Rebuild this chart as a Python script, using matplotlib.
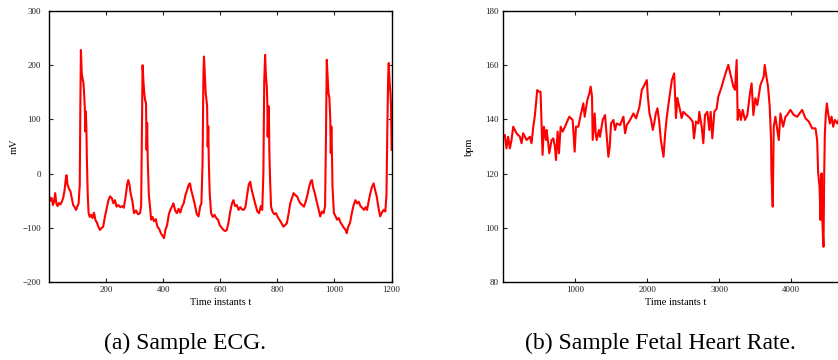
import matplotlib
matplotlib.use("Agg")
import matplotlib.pyplot as plt

plt.rcParams["font.family"] = ["Liberation Serif", "DejaVu Serif"]

# ECG sample (time instant, mV)
ecg_t = [1, 5, 10, 14, 18, 22, 26, 30, 35, 40, 45, 50, 55, 60, 62, 65, 70, 75, 80, 85,
         90, 95, 100, 104, 108, 110, 112, 115, 118, 121, 124, 126, 127, 129, 131, 133, 136, 139, 143, 148,
         153, 158, 163, 168, 173, 179, 185, 190, 196, 202, 208, 214, 220, 226, 231, 237, 243, 250, 256, 262,
         268, 274, 278, 282, 286, 292, 298, 305, 312, 319, 323, 326, 328, 331, 334, 337, 340, 342, 344, 346,
         350, 354, 358, 363, 368, 374, 380, 386, 392, 398, 403, 408, 414, 420, 426, 432, 436, 442, 448, 454,
         460, 466, 472, 478, 484, 490, 494, 498, 504, 510, 518, 524, 530, 534, 538, 541, 543, 546, 549, 552,
         554, 556, 558, 560, 563, 568, 574, 580, 586, 592, 598, 605, 611, 617, 623, 629, 635, 641, 646, 652,
         658, 664, 670, 676, 682, 688, 694, 700, 705, 710, 716, 722, 730, 736, 742, 747, 751, 754, 757, 760,
         763, 765, 766, 768, 770, 772, 775, 778, 783, 789, 795, 801, 807, 813, 821, 827, 833, 839, 845, 851,
         857, 863, 869, 875, 881, 887, 893, 899, 905, 911, 917, 921, 925, 931, 937, 944, 950, 956, 962, 967,
         970, 973, 976, 979, 982, 985, 987, 989, 991, 993, 998, 1003, 1009, 1015, 1021, 1027, 1033, 1039, 1043, 1048,
         1054, 1060, 1066, 1073, 1079, 1085, 1091, 1097, 1103, 1109, 1114, 1120, 1126, 1131, 1137, 1142, 1148, 1153, 1160, 1166,
         1172, 1178, 1182, 1185, 1188, 1190, 1193, 1196, 1198, 1200]
ecg_mv = [-42, -50, -45, -58, -52, -36, -55, -60, -54, -57, -52, -45, -30, -5, -3, -20, -28, -32, -45, -58,
          -62, -67, -60, -55, -20, 120, 228, 185, 175, 167, 140, 117, 78, 115, 90, 25, -40, -73, -80, -76,
          -82, -72, -86, -90, -98, -104, -100, -98, -80, -65, -50, -42, -45, -55, -49, -61, -58, -62, -60, -63,
          -45, -20, -12, -20, -36, -50, -73, -68, -75, -73, -60, 100, 200, 170, 148, 135, 130, 44, 93, 25,
          -40, -61, -85, -80, -88, -84, -98, -102, -110, -115, -119, -104, -95, -75, -66, -60, -55, -68, -73, -65,
          -72, -61, -55, -40, -30, -20, -18, -30, -42, -55, -75, -79, -60, -55, 20, 180, 216, 180, 148, 135,
          124, 50, 87, 20, -36, -73, -80, -76, -82, -85, -95, -100, -104, -106, -104, -90, -70, -55, -49, -60,
          -58, -67, -62, -66, -67, -62, -40, -20, -15, -30, -42, -55, -70, -73, -60, -67, 0, 170, 219, 180,
          160, 125, 68, 110, 124, 38, -20, -61, -70, -75, -73, -80, -85, -90, -98, -95, -92, -75, -55, -45,
          -36, -40, -42, -50, -55, -58, -61, -52, -40, -25, -14, -12, -25, -36, -50, -65, -79, -70, -73, -60,
          60, 210, 180, 148, 140, 105, 38, 87, 40, -24, -73, -78, -85, -82, -90, -95, -100, -104, -110, -98,
          -92, -75, -60, -49, -55, -52, -60, -63, -67, -62, -67, -50, -35, -25, -18, -30, -42, -60, -79, -72,
          -67, -70, -40, 80, 180, 204, 170, 148, 125, 44]

# fetal heart rate sample (time instant, bpm)
fhr_t = [21, 44, 67, 91, 114, 137, 183, 230, 253, 276, 323, 369, 392, 415, 439, 471, 495, 517, 545, 564,
         592, 601, 624, 638, 671, 694, 717, 731, 754, 773, 796, 824, 856, 916, 963, 991, 1009, 1042, 1074, 1111,
         1130, 1167, 1195, 1213, 1232, 1241, 1269, 1283, 1297, 1329, 1343, 1380, 1413, 1459, 1478, 1496, 1529, 1552, 1575, 1622,
         1668, 1691, 1715, 1761, 1807, 1844, 1891, 1923, 1970, 1993, 2007, 2030, 2053, 2076, 2095, 2118, 2141, 2165, 2188, 2225,
         2248, 2271, 2308, 2341, 2373,
         2398, 2417, 2454, 2477, 2500, 2547, 2593, 2630, 2648, 2676, 2709, 2722, 2755, 2778, 2801, 2834, 2861, 2880, 2903, 2931,
         2963, 2986, 3033, 3079, 3125, 3162, 3195, 3218, 3241, 3255, 3278, 3301, 3324, 3357, 3389, 3426, 3449, 3473, 3500, 3528,
         3571, 3617, 3631, 3654, 3677, 3700, 3719, 3724, 3742, 3756, 3779, 3812, 3826, 3849, 3886, 3919, 3942, 3988, 4035, 4081,
         4151, 4197, 4243, 4290, 4336, 4359, 4373, 4392, 4406, 4420, 4434, 4447, 4457, 4466, 4480, 4494, 4512, 4536, 4559, 4582,
         4605, 4638, 4656]
fhr_bpm = [134.2, 129.3, 133.6, 129.3, 132.4, 137.3, 134.9, 133.6, 131.2, 134.9, 132.4, 133.6, 131.2, 137.0, 141.6, 150.8, 150.2, 150.2, 126.9, 137.3,
           132.4, 136.1, 131.2, 127.5, 132.4, 133.0, 129.9, 125.0, 135.5, 127.5, 137.3, 135.5, 137.3, 141.0, 139.8, 128.1, 137.3, 137.3, 141.6, 145.9,
           141.0, 147.2, 149.6, 152.1, 148.4, 132.4, 142.2, 134.9, 132.4, 136.1, 133.6, 139.8, 141.6, 126.2, 129.9, 138.5, 139.8, 136.1, 138.5, 137.9,
           141.0, 134.9, 137.9, 139.8, 142.2, 140.4, 144.7, 150.8, 153.3, 154.5, 148.4, 142.2, 139.8, 136.1, 138.5, 142.2, 144.1, 139.2, 132.4, 126.2,
           134.9, 141.0, 148.4, 154.5, 157.0,
           140.5, 147.9, 143.5, 140.5, 142.8, 141.6, 140.5, 139.2, 133.0, 139.2, 138.5, 142.8, 137.3, 131.2, 141.6, 142.8, 136.1, 142.8, 133.0, 142.8,
           144.0, 148.4, 152.1, 156.4, 160.1, 155.8, 152.1, 150.9, 161.9, 139.8, 143.5, 139.8, 143.5, 139.8, 141.6, 149.6, 153.3, 141.6, 147.8, 145.3,
           152.7, 155.8, 160.1, 155.8, 152.1, 144.7, 132.4, 120.1, 107.8, 137.3, 141.0, 134.9, 132.4, 142.2, 137.3, 141.0, 141.6, 143.5, 141.6, 141.0,
           143.5, 140.4, 139.2, 136.7, 136.7, 132.4, 120.1, 115.2, 102.9, 120.1, 100.4, 93.0, 120.1, 134.9, 142.2, 145.9, 142.2, 138.5, 141.0, 137.3,
           139.8, 138.5, 139.8]

ecg_ticks_x = [200, 400, 600, 800, 1000, 1200]
ecg_ticks_y = [-200, -100, 0, 100, 200, 300]
fhr_ticks_x = [1000, 2000, 3000, 4000]
fhr_ticks_y = [80, 100, 120, 140, 160, 180]


def style(ax, ypad):
    for s in ax.spines.values():
        s.set_linewidth(1.0)
    ax.tick_params(direction="in", top=True, right=True, length=3, width=0.8,
                   labelsize=6.5, colors="#222222")
    ax.tick_params(axis="y", pad=ypad)
    ax.tick_params(axis="x", pad=3)


fig = plt.figure(figsize=(8.38, 3.6), dpi=100)

ax1 = fig.add_axes([49.2 / 838, 78 / 360, 342.4 / 838, 271 / 360])
ax1.plot(ecg_t, ecg_mv, color="red", lw=1.5)
ax1.set_xlim(1, 1200)
ax1.set_ylim(-200, 300)
ax1.set_xticks(ecg_ticks_x)
ax1.set_yticks(ecg_ticks_y)
style(ax1, 6)
ax1.set_xlabel("Time instants t", fontsize=7.5)
ax1.set_ylabel("mV", fontsize=7.5)
ax1.xaxis.set_label_coords(0.5, -0.058)
ax1.yaxis.set_label_coords(-0.088, 0.5)

ax2 = fig.add_axes([503.4 / 838, 78 / 360, 345.5 / 838, 271 / 360])
ax2.plot(fhr_t, fhr_bpm, color="red", lw=1.5)
ax2.set_xlim(1, 4800)
ax2.set_ylim(80, 180)
ax2.set_xticks(fhr_ticks_x)
ax2.set_yticks(fhr_ticks_y)
style(ax2, 3.5)
ax2.set_xlabel("Time instants t", fontsize=7.5)
ax2.set_ylabel("bpm", fontsize=7.5)
ax2.xaxis.set_label_coords(0.5, -0.058)
ax2.yaxis.set_label_coords(-0.085, 0.5)

fig.text(185 / 838, 1 - 343 / 360, "(a) Sample ECG.", fontsize=17, ha="center", va="center")
fig.text(660 / 838, 1 - 343 / 360, "(b) Sample Fetal Heart Rate.", fontsize=17, ha="center", va="center")

fig.savefig("out.png", dpi=100)
